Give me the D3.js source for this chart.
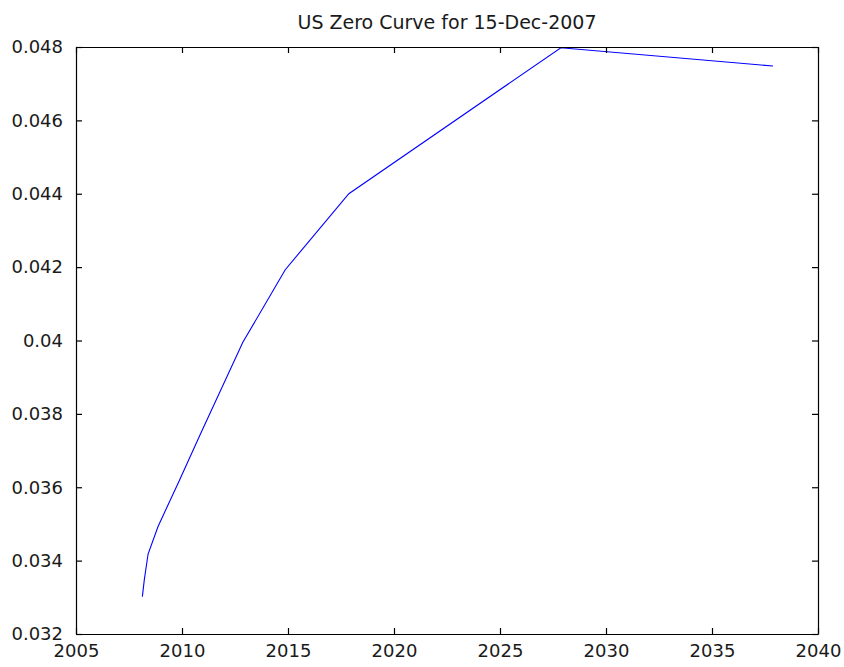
<!DOCTYPE html>
<html>
<head>
<meta charset="utf-8">
<script src="https://cdn.jsdelivr.net/npm/d3@7"></script>
<style>
  html, body { margin: 0; padding: 0; background: #fff; }
  svg text { font-family: "DejaVu Sans", sans-serif; fill: #1a1a1a; }
</style>
</head>
<body>
<svg id="chart" width="844" height="667"></svg>
<script>
const titleText = "US Zero Curve for 15-Dec-2007";
const years = [2008.13, 2008.22, 2008.4, 2008.87, 2009.87, 2010.87, 2012.87, 2014.87, 2017.87, 2027.87, 2037.88];
const rates = [0.03302, 0.03347, 0.03418, 0.03493, 0.03618, 0.03745, 0.03995, 0.04193, 0.0440, 0.04798, 0.04748];
const xTicks = [2005, 2010, 2015, 2020, 2025, 2030, 2035, 2040];
const yTicks = [0.032, 0.034, 0.036, 0.038, 0.04, 0.042, 0.044, 0.046, 0.048];
const yTickLabels = ["0.032", "0.034", "0.036", "0.038", "0.04", "0.042", "0.044", "0.046", "0.048"];

(function () {
const L = 76, R = 818, T = 47, B = 634;
const svg = d3.select("#chart");
const x = d3.scaleLinear().domain([2005, 2040]).range([L, R]);
const y = d3.scaleLinear().domain([0.032, 0.048]).range([B, T]);

svg.append("defs").append("clipPath").attr("id", "clip")
  .append("rect").attr("x", L).attr("y", T).attr("width", R - L).attr("height", B - T);

const data = years.map((yr, i) => ({ x: yr, y: rates[i] }));
svg.append("path").datum(data)
  .attr("clip-path", "url(#clip)")
  .attr("fill", "none").attr("stroke", "#0000ff").attr("stroke-width", 1.1)
  .attr("d", d3.line().x(d => x(d.x)).y(d => y(d.y)));

const tl = 6;
const gBottom = svg.append("g").attr("transform", `translate(0,${B})`)
  .call(d3.axisBottom(x).tickValues(xTicks).tickFormat(d3.format("d")).tickSizeInner(-tl).tickSizeOuter(0).tickPadding(10));
const gTop = svg.append("g").attr("transform", `translate(0,${T})`)
  .call(d3.axisTop(x).tickValues(xTicks).tickFormat("").tickSizeInner(-tl).tickSizeOuter(0));
const gLeft = svg.append("g").attr("transform", `translate(${L},0)`)
  .call(d3.axisLeft(y).tickValues(yTicks).tickFormat((d, i) => yTickLabels[i]).tickSizeInner(-tl).tickSizeOuter(0).tickPadding(13));
const gRight = svg.append("g").attr("transform", `translate(${R},0)`)
  .call(d3.axisRight(y).tickValues(yTicks).tickFormat("").tickSizeInner(-tl).tickSizeOuter(0));

[gBottom, gTop, gLeft, gRight].forEach(g => {
  g.selectAll(".domain").attr("stroke", "#000").attr("stroke-width", 1.2);
  g.selectAll(".tick line").attr("stroke", "#000").attr("stroke-width", 1.2);
  g.selectAll("text").style("font-family", '"DejaVu Sans", sans-serif').style("font-size", "18px").attr("fill", "#1a1a1a");
});
gBottom.selectAll(".tick text").attr("dy", "0.71em").attr("y", 10);

svg.append("text").attr("x", (L + R) / 2).attr("y", 29)
  .attr("text-anchor", "middle").style("font-size", "19px")
  .text(titleText);
})();
</script>
</body>
</html>
